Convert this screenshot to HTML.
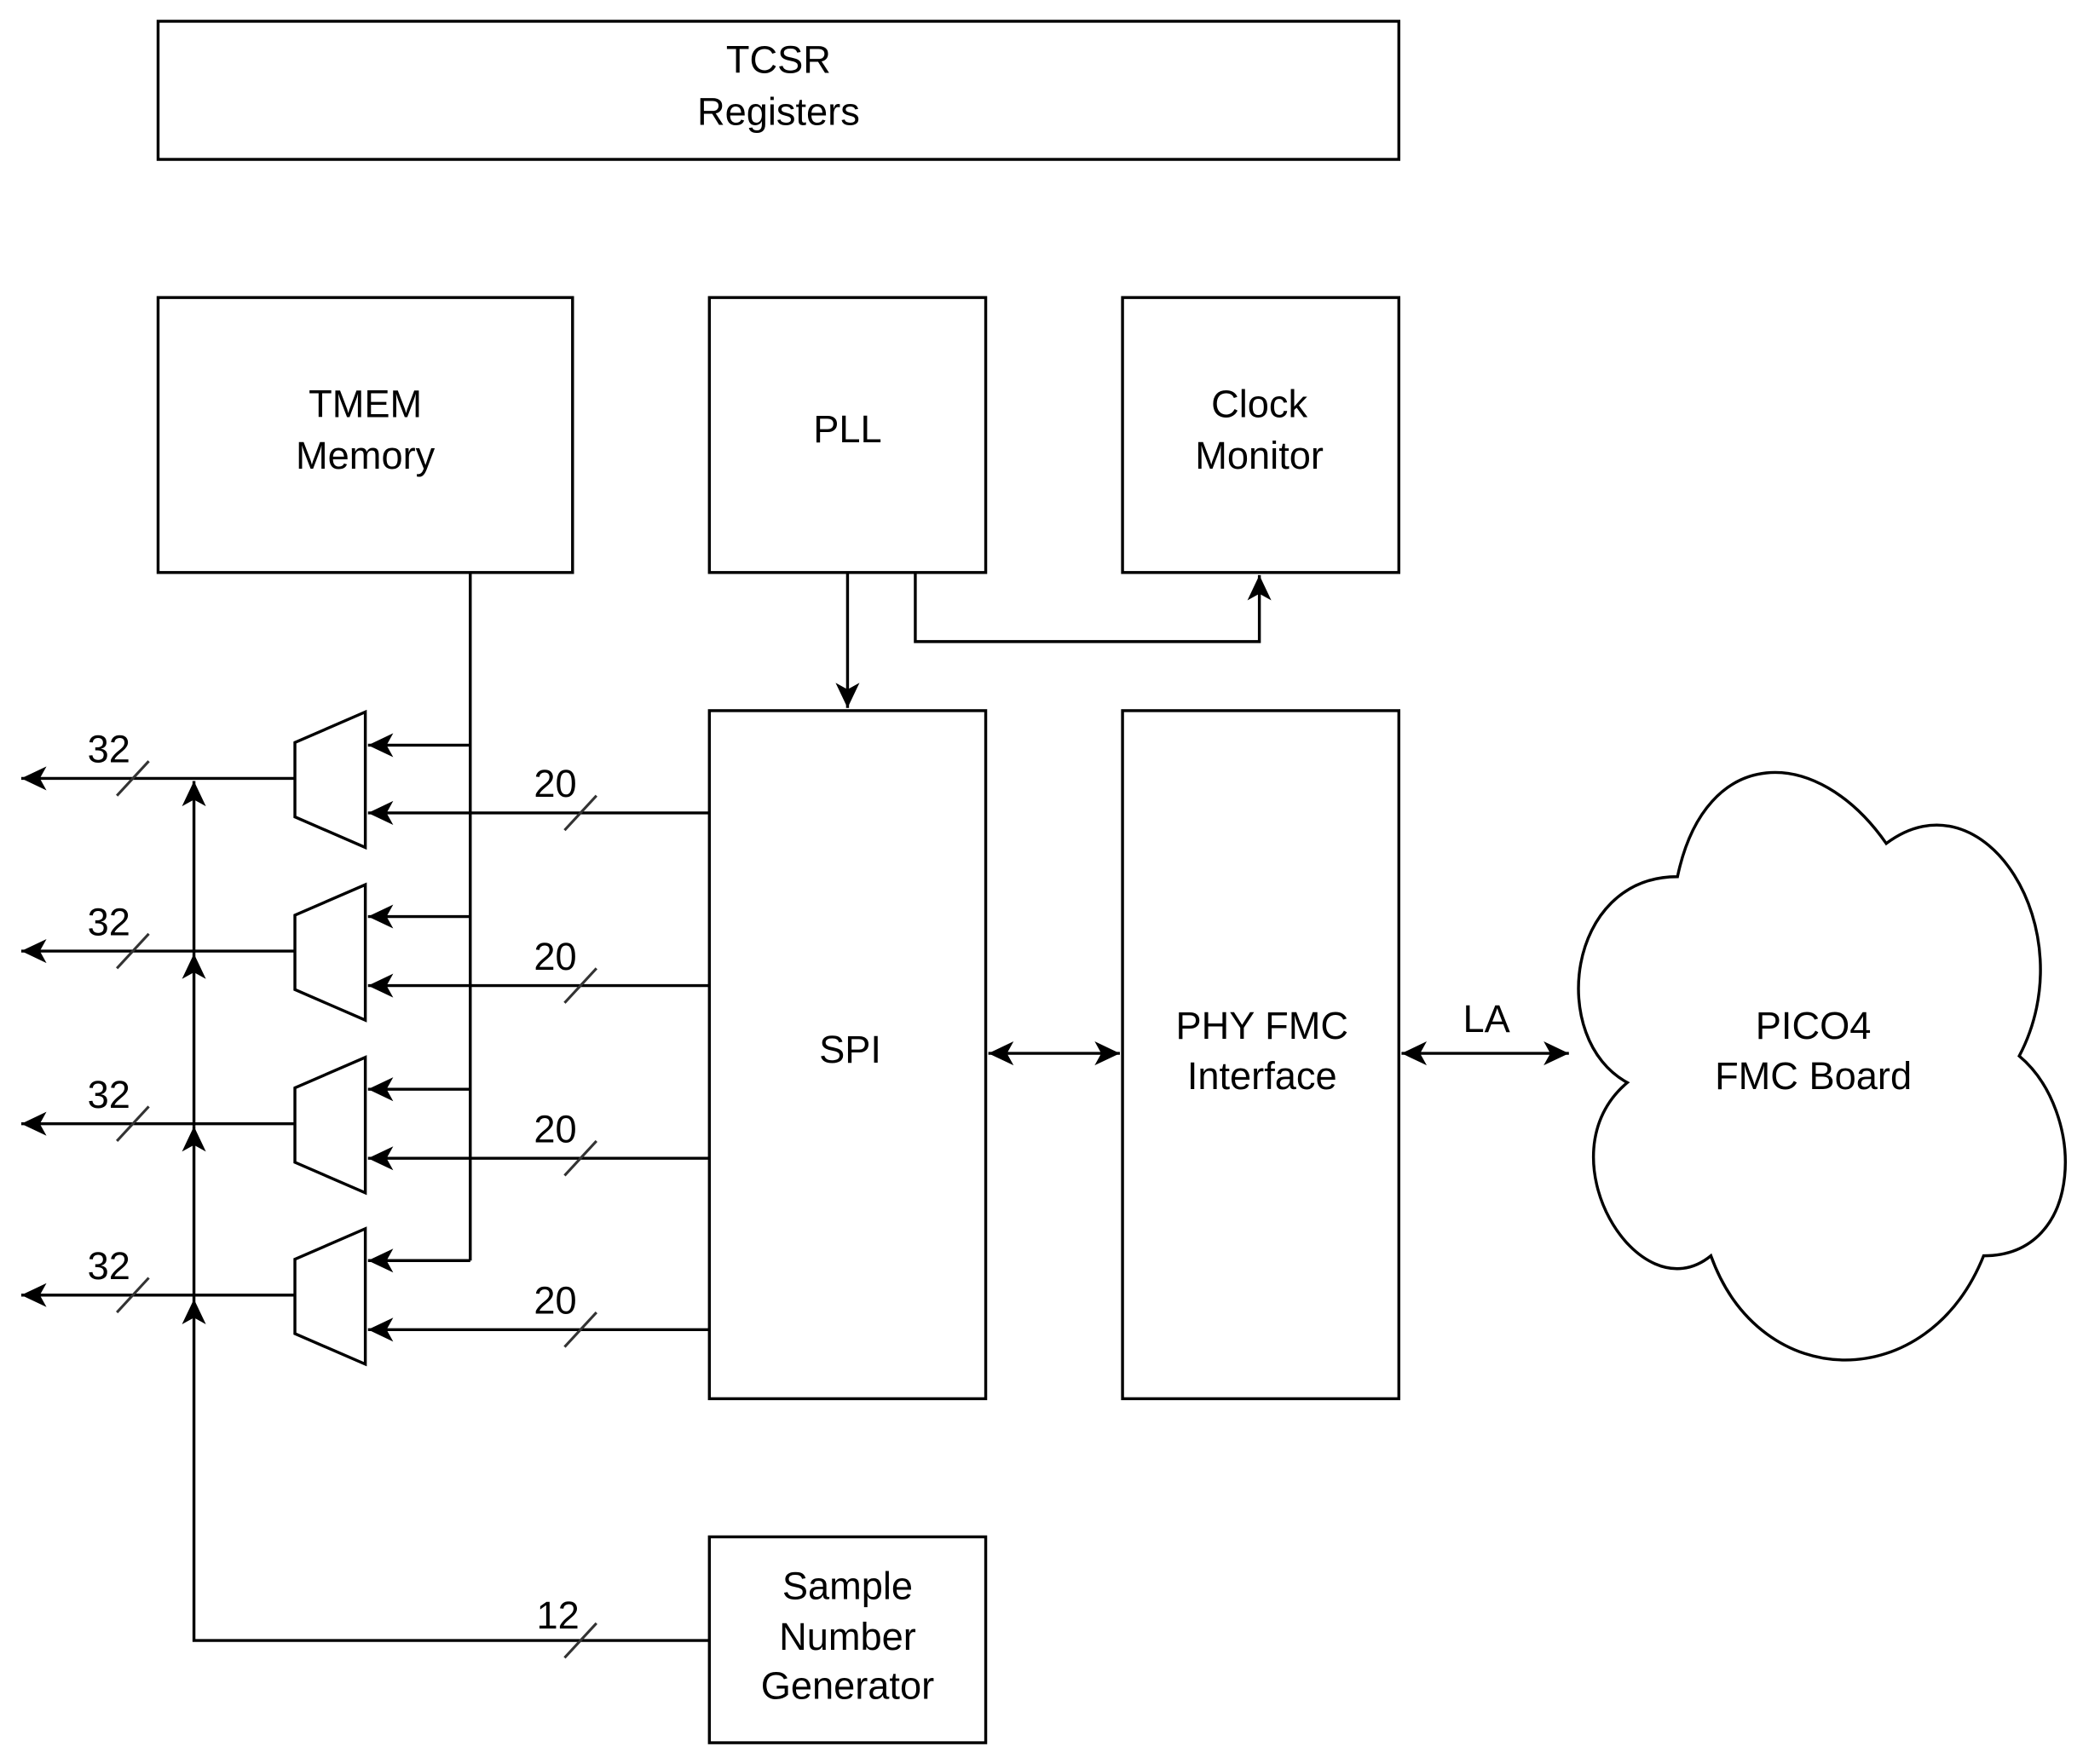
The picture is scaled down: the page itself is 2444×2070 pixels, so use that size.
<!DOCTYPE html>
<html><head><meta charset="utf-8"><style>html,body{margin:0;padding:0;background:#fff}svg{display:block}</style></head>
<body>
<svg width="2444" height="2070" viewBox="0 0 1568 1328" preserveAspectRatio="none" xmlns="http://www.w3.org/2000/svg">
<defs>
<marker id="a" markerUnits="userSpaceOnUse" markerWidth="26" markerHeight="24" viewBox="-22 -12 26 24" refX="0" refY="0" orient="auto">
<path d="M0,0 L-19,-9 L-14,0 L-19,9 Z" fill="#000"/>
</marker>
<marker id="as" markerUnits="userSpaceOnUse" markerWidth="26" markerHeight="24" viewBox="-22 -12 26 24" refX="0" refY="0" orient="auto-start-reverse">
<path d="M0,0 L-19,-9 L-14,0 L-19,9 Z" fill="#000"/>
</marker>
</defs>
<g fill="none" stroke="#000" stroke-width="2.2">
<rect x="119" y="16" width="934" height="104"/>
<rect x="119" y="224" width="312" height="207"/>
<rect x="534" y="224" width="208" height="207"/>
<rect x="845" y="224" width="208" height="207"/>
<rect x="534" y="535" width="208" height="518"/>
<rect x="845" y="535" width="208" height="518"/>
<rect x="534" y="1157" width="208" height="155"/>
<path d="M1262.75,660 C1178.95,660 1165,782.5 1225,815 C1160,869.4 1233.4,990 1287.9,945.4 C1325.6,1050 1451.3,1050 1493.2,945.4 C1570,945.4 1570,836.8 1520,795 C1570,700 1493.2,580 1419.9,635 C1367.5,560 1283.7,560 1262.75,660 Z"/>
<path d="M222,559 L275,536 L275,638 L222,615 Z"/>
<path d="M222,689 L275,666 L275,768 L222,745 Z"/>
<path d="M222,819 L275,796 L275,898 L222,875 Z"/>
<path d="M222,948 L275,925 L275,1027 L222,1004 Z"/>
<path d="M354,431 L354,949"/>
<path d="M354,561 L277,561" marker-end="url(#a)"/>
<path d="M354,690 L277,690" marker-end="url(#a)"/>
<path d="M354,820 L277,820" marker-end="url(#a)"/>
<path d="M354,949 L277,949" marker-end="url(#a)"/>
<path d="M534,612 L277,612" marker-end="url(#a)"/>
<path d="M534,742 L277,742" marker-end="url(#a)"/>
<path d="M534,872 L277,872" marker-end="url(#a)"/>
<path d="M534,1001 L277,1001" marker-end="url(#a)"/>
<path d="M222,586 L16,586" marker-end="url(#a)"/>
<path d="M222,716 L16,716" marker-end="url(#a)"/>
<path d="M222,846 L16,846" marker-end="url(#a)"/>
<path d="M222,975 L16,975" marker-end="url(#a)"/>
<path d="M534,1235 L146,1235 L146,978" marker-end="url(#a)"/>
<path d="M146,978 L146,848" marker-end="url(#a)"/>
<path d="M146,848 L146,718" marker-end="url(#a)"/>
<path d="M146,718 L146,588" marker-end="url(#a)"/>
<path d="M638,431 L638,533" marker-end="url(#a)"/>
<path d="M689,431 L689,483 L948,483 L948,433" marker-end="url(#a)"/>
<path d="M744,793 L843,793" marker-start="url(#as)" marker-end="url(#a)"/>
<path d="M1055,793 L1181,793" marker-start="url(#as)" marker-end="url(#a)"/>
</g>
<g stroke="#333" stroke-width="2">
<path d="M88,599 L112,573"/><path d="M88,729 L112,703"/><path d="M88,859 L112,833"/><path d="M88,988 L112,962"/>
<path d="M425,625 L449,599"/><path d="M425,755 L449,729"/><path d="M425,885 L449,859"/><path d="M425,1014 L449,988"/>
<path d="M425,1248 L449,1222"/>
</g>
<g font-family="Liberation Sans, sans-serif" font-size="29" fill="#000" text-anchor="middle">
<text x="586" y="55">TCSR</text><text x="586" y="94">Registers</text>
<text x="275" y="314">TMEM</text><text x="275" y="353">Memory</text>
<text x="638" y="333">PLL</text>
<text x="948" y="314">Clock</text><text x="948" y="353">Monitor</text>
<text x="640" y="800">SPI</text>
<text x="950" y="782">PHY FMC</text><text x="950" y="820">Interface</text>
<text x="638" y="1204">Sample</text><text x="638" y="1242">Number</text><text x="638" y="1279">Generator</text>
<text x="1365" y="782">PICO4</text><text x="1365" y="820">FMC Board</text>
<text x="1119" y="777">LA</text>
<text x="82" y="574">32</text><text x="82" y="704">32</text><text x="82" y="834">32</text><text x="82" y="963">32</text>
<text x="418" y="600">20</text><text x="418" y="730">20</text><text x="418" y="860">20</text><text x="418" y="989">20</text>
<text x="420" y="1226">12</text>
</g>
</svg>
</body></html>
